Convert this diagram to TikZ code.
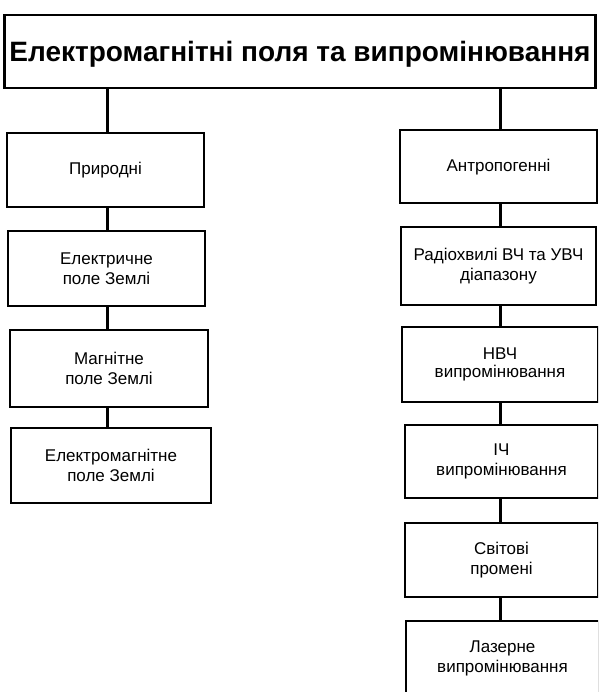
\documentclass[tikz,border=0pt]{standalone}
\usepackage{fontspec}
\setmainfont{Liberation Sans}
\begin{document}
\begin{tikzpicture}[x=1pt,y=-1pt,
  boxst/.style={draw, line width=2.4pt, inner sep=0pt, align=center,
    font=\fontsize{17}{20.5}\selectfont},
  conn/.style={line width=3pt}]
\useasboundingbox (0,0) rectangle (598,692);
\clip (0,0) rectangle (598,692);
\node[boxst, minimum width=591pt, minimum height=73pt, text height=26pt, text depth=6pt,
  font=\fontsize{28}{32}\selectfont\bfseries] (title) at (300,51.5)
  {Електромагнітні поля та випромінювання};
% left column
\node[boxst, minimum width=197pt, minimum height=74pt] (L1) at (105.5,170) {Природні};
\node[boxst, minimum width=197pt, minimum height=75pt] (L2) at (106.5,268.5) {Електричне\\поле Землі};
\node[boxst, minimum width=198pt, minimum height=77pt] (L3) at (109,368.5) {Магнітне\\поле Землі};
\node[boxst, minimum width=200pt, minimum height=75pt] (L4) at (111,465.5) {Електромагнітне\\поле Землі};
% right column
\node[boxst, minimum width=197pt, minimum height=73pt, text height=14pt, text depth=3.5pt] (R1) at (498.5,166.5) {Антропогенні};
\node[boxst, minimum width=195pt, minimum height=78pt] (R2) at (498.5,266) {Радіохвилі ВЧ та УВЧ\\діапазону};
\node[boxst, minimum width=196pt, minimum height=75pt,
  font=\fontsize{17}{18}\selectfont] (R3) at (500,364.5) {НВЧ\\випромінювання};
\node[boxst, minimum width=193pt, minimum height=73pt] (R4) at (501.5,461.5) {ІЧ\\випромінювання};
\node[boxst, minimum width=193pt, minimum height=74pt] (R5) at (501.5,560) {Світові\\промені};
\node[boxst, minimum width=193pt, minimum height=75pt] (R6) at (502.5,658.5) {Лазерне\\випромінювання};
% connectors
\coordinate (tl) at (107,0);
\coordinate (tr) at (500,0);
\draw[conn] (tl |- title.south) -- (tl |- L1.north);
\draw[conn] (tl |- L1.south) -- (tl |- L2.north);
\draw[conn] (tl |- L2.south) -- (tl |- L3.north);
\draw[conn] (tl |- L3.south) -- (tl |- L4.north);
\draw[conn] (tr |- title.south) -- (tr |- R1.north);
\draw[conn] (tr |- R1.south) -- (tr |- R2.north);
\draw[conn] (tr |- R2.south) -- (tr |- R3.north);
\draw[conn] (tr |- R3.south) -- (tr |- R4.north);
\draw[conn] (tr |- R4.south) -- (tr |- R5.north);
\draw[conn] (tr |- R5.south) -- (tr |- R6.north);
\end{tikzpicture}
\end{document}
